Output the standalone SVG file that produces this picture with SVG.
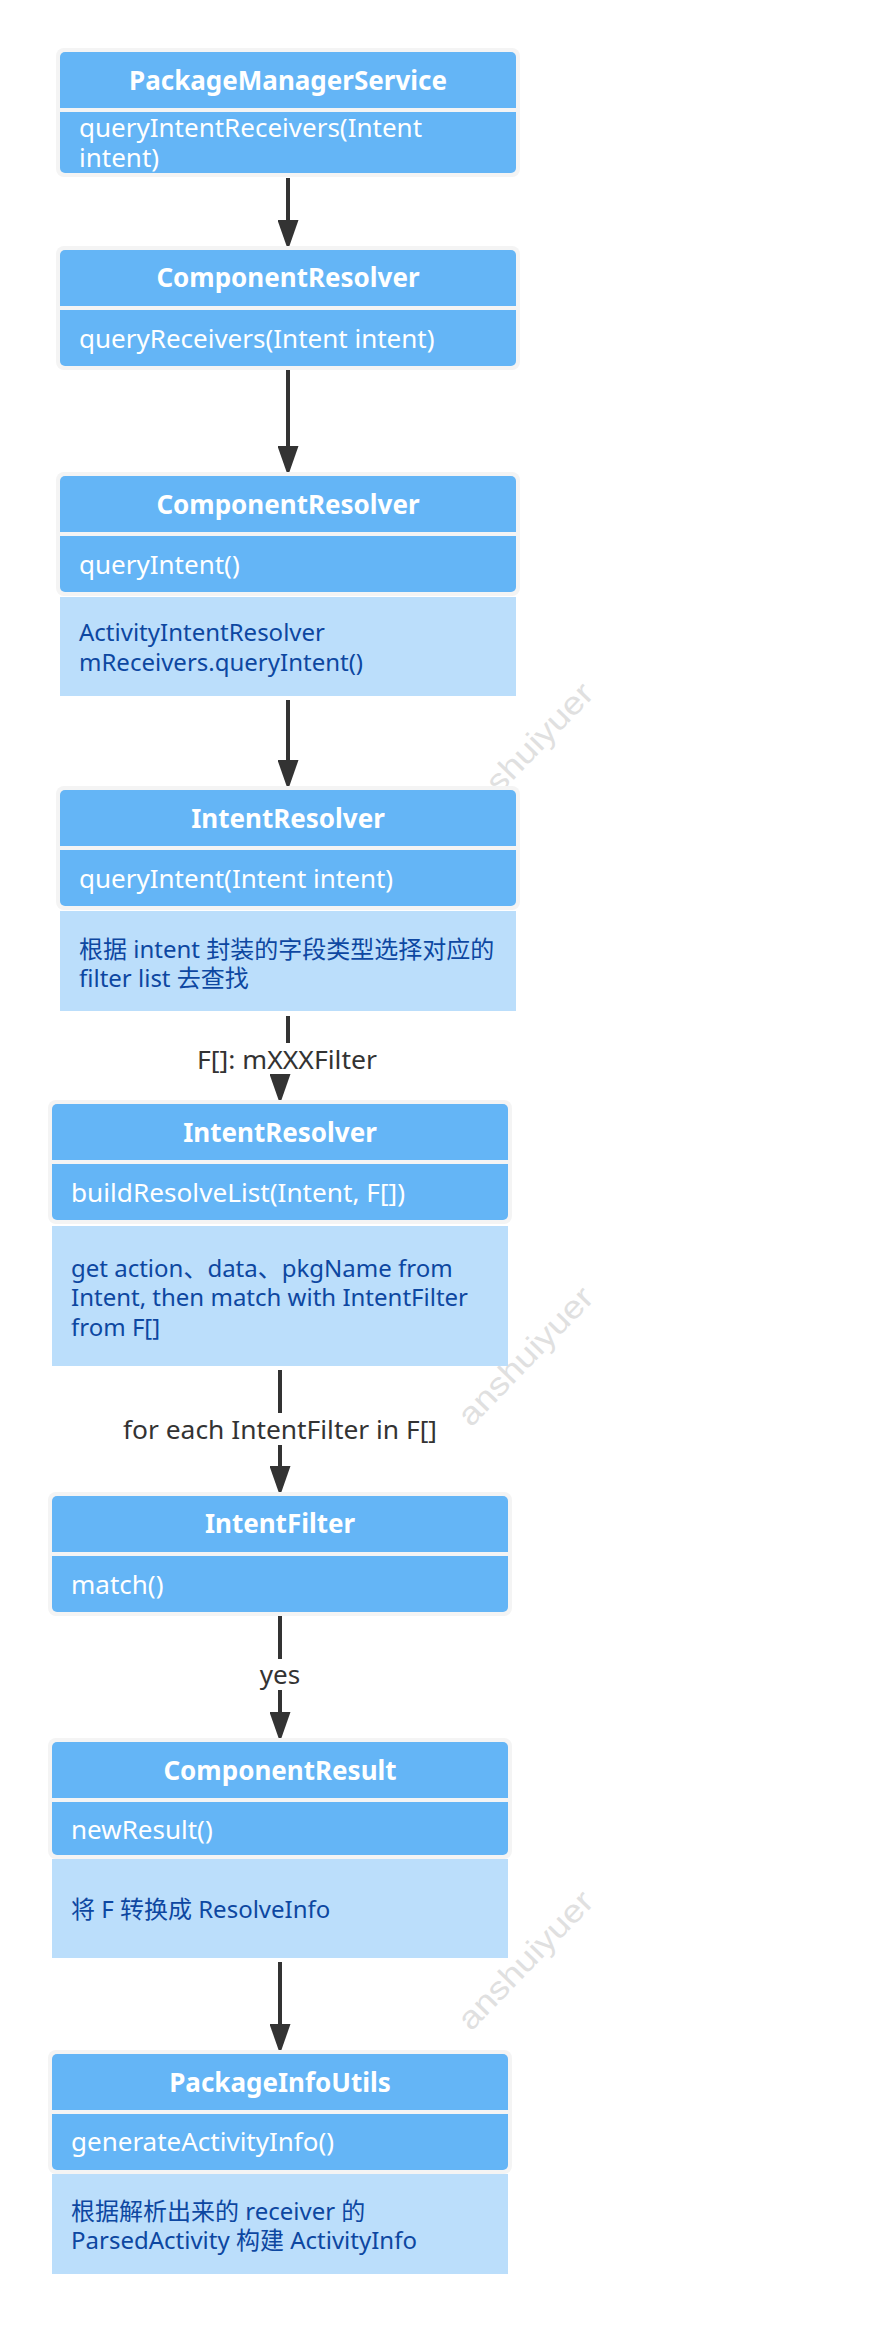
<svg xmlns="http://www.w3.org/2000/svg" width="886" height="2326" viewBox="0 0 886 2326">
<defs>
<style>
.frame{fill:#f4f4f4}
.head{fill:#64b5f6}
.div{fill:#f4f4f4}
.note{fill:#bbdefb}
.ht{font-family:"Noto Sans","Noto Sans CJK SC",sans-serif;font-size:26px;font-weight:bold;fill:#ffffff;text-anchor:middle}
.mt{font-family:"Noto Sans","Noto Sans CJK SC",sans-serif;font-size:26px;fill:#ffffff}
.nt{font-family:"Noto Sans","Noto Sans CJK SC",sans-serif;font-size:24px;fill:#0d47a1}
.lt{font-family:"Noto Sans","Noto Sans CJK SC",sans-serif;font-size:26px;fill:#333333;text-anchor:middle}
.lbg{fill:#ffffff}
.edge{fill:none;stroke:#333333;stroke-width:4}
.wm{font-family:"Liberation Sans",sans-serif;font-size:32px;fill:#e0e0e0}
</style>
<marker id="arrow" markerUnits="userSpaceOnUse" markerWidth="30" markerHeight="21" refX="0" refY="10.5" orient="auto">
<path d="M0,0 L30,10.5 L0,21 Z" fill="#333333"/>
</marker>
</defs>
<rect x="0" y="0" width="886" height="2326" fill="#ffffff"/>
<g id="watermarks">
<text class="wm" transform="translate(471,824) rotate(-46)" textLength="179" lengthAdjust="spacingAndGlyphs">anshuiyuer</text>
<text class="wm" transform="translate(471,1428) rotate(-46)" textLength="179" lengthAdjust="spacingAndGlyphs">anshuiyuer</text>
<text class="wm" transform="translate(471,2032) rotate(-46)" textLength="179" lengthAdjust="spacingAndGlyphs">anshuiyuer</text>
</g>
<g id="connectors">
<path class="edge" d="M288 178 V220" marker-end="url(#arrow)"/>
<path class="edge" d="M288 370 V446" marker-end="url(#arrow)"/>
<path class="edge" d="M288 700 V760" marker-end="url(#arrow)"/>
<path class="edge" d="M288 1016 V1052 L280 1060 V1074" marker-end="url(#arrow)"/>
<path class="edge" d="M280 1370 V1466" marker-end="url(#arrow)"/>
<path class="edge" d="M280 1616 V1712" marker-end="url(#arrow)"/>
<path class="edge" d="M280 1962 V2024" marker-end="url(#arrow)"/>
</g>
<g id="edge-labels">
<rect class="lbg" x="194" y="1043" width="186" height="31"/>
<text class="lt" x="287" y="1069" textLength="180" lengthAdjust="spacingAndGlyphs">F[]: mXXXFilter</text>
<rect class="lbg" x="120" y="1413" width="320" height="32"/>
<text class="lt" x="280" y="1439" textLength="314" lengthAdjust="spacingAndGlyphs">for each IntentFilter in F[]</text>
<rect class="lbg" x="256" y="1659" width="48" height="31"/>
<text class="lt" x="280" y="1684">yes</text>
</g>
<g id="node-PackageManagerService">
<rect class="frame" x="56" y="48" width="464" height="129" rx="8"/>
<rect class="head" x="60" y="52" width="456" height="121" rx="5"/>
<rect class="div" x="60" y="108" width="456" height="4"/>
<text class="ht" x="288" y="90">PackageManagerService</text>
<text class="mt" x="79" y="137">queryIntentReceivers(Intent</text>
<text class="mt" x="79" y="167">intent)</text>
</g>
<g id="node-ComponentResolver-1">
<rect class="frame" x="56" y="246" width="464" height="124" rx="8"/>
<rect class="head" x="60" y="250" width="456" height="116" rx="5"/>
<rect class="div" x="60" y="306" width="456" height="4"/>
<text class="ht" x="288" y="287">ComponentResolver</text>
<text class="mt" x="79" y="348">queryReceivers(Intent intent)</text>
</g>
<g id="node-ComponentResolver-2">
<rect class="frame" x="56" y="472" width="464" height="124" rx="8"/>
<rect class="head" x="60" y="476" width="456" height="116" rx="5"/>
<rect class="div" x="60" y="532" width="456" height="4"/>
<rect class="note" x="60" y="597" width="456" height="99"/>
<text class="ht" x="288" y="514">ComponentResolver</text>
<text class="mt" x="79" y="574">queryIntent()</text>
<text class="nt" x="79" y="641">ActivityIntentResolver</text>
<text class="nt" x="79" y="671">mReceivers.queryIntent()</text>
</g>
<g id="node-IntentResolver-1">
<rect class="frame" x="56" y="786" width="464" height="124" rx="8"/>
<rect class="head" x="60" y="790" width="456" height="116" rx="5"/>
<rect class="div" x="60" y="846" width="456" height="4"/>
<rect class="note" x="60" y="911" width="456" height="100"/>
<text class="ht" x="288" y="828">IntentResolver</text>
<text class="mt" x="79" y="888">queryIntent(Intent intent)</text>
<text class="nt" x="79" y="958">根据 intent 封装的字段类型选择对应的</text>
<text class="nt" x="79" y="987">filter list 去查找</text>
</g>
<g id="node-IntentResolver-2">
<rect class="frame" x="48" y="1100" width="464" height="124" rx="8"/>
<rect class="head" x="52" y="1104" width="456" height="116" rx="5"/>
<rect class="div" x="52" y="1160" width="456" height="4"/>
<rect class="note" x="52" y="1226" width="456" height="140"/>
<text class="ht" x="280" y="1142">IntentResolver</text>
<text class="mt" x="71" y="1202" textLength="334" lengthAdjust="spacingAndGlyphs">buildResolveList(Intent, F[])</text>
<text class="nt" x="71" y="1277">get action、data、pkgName from</text>
<text class="nt" x="71" y="1306">Intent, then match with IntentFilter</text>
<text class="nt" x="71" y="1336">from F[]</text>
</g>
<g id="node-IntentFilter">
<rect class="frame" x="48" y="1492" width="464" height="124" rx="8"/>
<rect class="head" x="52" y="1496" width="456" height="116" rx="5"/>
<rect class="div" x="52" y="1552" width="456" height="4"/>
<text class="ht" x="280" y="1533">IntentFilter</text>
<text class="mt" x="71" y="1594">match()</text>
</g>
<g id="node-ComponentResult">
<rect class="frame" x="48" y="1738" width="464" height="121" rx="8"/>
<rect class="head" x="52" y="1742" width="456" height="113" rx="5"/>
<rect class="div" x="52" y="1798" width="456" height="4"/>
<rect class="note" x="52" y="1859" width="456" height="99"/>
<text class="ht" x="280" y="1780">ComponentResult</text>
<text class="mt" x="71" y="1839">newResult()</text>
<text class="nt" x="71" y="1918">将 F 转换成 ResolveInfo</text>
</g>
<g id="node-PackageInfoUtils">
<rect class="frame" x="48" y="2050" width="464" height="124" rx="8"/>
<rect class="head" x="52" y="2054" width="456" height="116" rx="5"/>
<rect class="div" x="52" y="2110" width="456" height="4"/>
<rect class="note" x="52" y="2174" width="456" height="100"/>
<text class="ht" x="280" y="2092">PackageInfoUtils</text>
<text class="mt" x="71" y="2151">generateActivityInfo()</text>
<text class="nt" x="71" y="2220">根据解析出来的 receiver 的</text>
<text class="nt" x="71" y="2249">ParsedActivity 构建 ActivityInfo</text>
</g>
</svg>
